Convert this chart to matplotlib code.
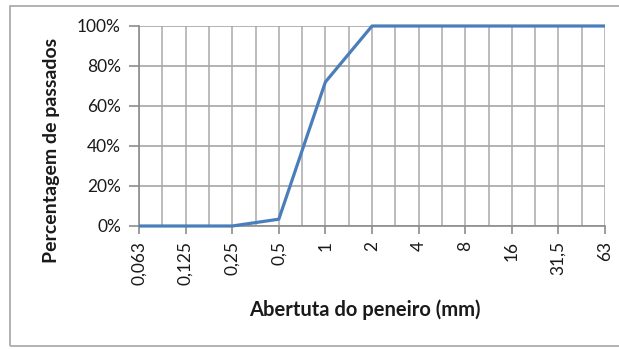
import matplotlib
matplotlib.use("Agg")
import matplotlib.pyplot as plt
from matplotlib.ticker import MultipleLocator, FuncFormatter
from matplotlib.patches import Rectangle

# Sieve openings (mm) and cumulative percentage passing
aberturas = ["0,063", "0,125", "0,25", "0,5", "1", "2", "4", "8", "16", "31,5", "63"]
passados = [0, 0, 0, 3.4, 72, 100, 100, 100, 100, 100, 100]
y_ticks = [0, 20, 40, 60, 80, 100]

plt.rcParams["font.family"] = ["Lato", "DejaVu Sans"]

W, H = 619, 349
fig = plt.figure(figsize=(W / 100, H / 100), dpi=100)
fig.patch.set_facecolor("white")

# Outer chart frame
frame = Rectangle((10 / W, 3 / H), 640 / W, 343 / H - 3 / H,
                  transform=fig.transFigure, fill=False,
                  edgecolor="#a6a6a6", linewidth=1.2, clip_on=False)
fig.patches.append(frame)

ax = fig.add_axes([139 / W, (H - 226) / H, (605 - 139) / W, 200 / H])

x = list(range(len(aberturas)))
ax.plot(x, passados, color="#4a7ebb", linewidth=2.3, solid_capstyle="butt",
        zorder=3, clip_on=False)

ax.set_xlim(0, len(aberturas) - 1)
ax.set_ylim(0, 100)

ax.set_xticks(x)
ax.set_xticklabels(aberturas, rotation=90, fontsize=12.5, color="#1a1a1a")
ax.xaxis.set_minor_locator(MultipleLocator(0.5))
ax.set_yticks(y_ticks)
ax.yaxis.set_major_formatter(FuncFormatter(lambda v, p: f"{v:.0f}%"))
for lab in ax.get_yticklabels():
    lab.set_fontsize(12.5)
    lab.set_color("#1a1a1a")

ax.grid(which="both", axis="x", color="#b0b0b0", linewidth=1.2)
ax.grid(which="major", axis="y", color="#a6a6a6", linewidth=1.2)
ax.set_axisbelow(True)

for side in ["top", "right"]:
    ax.spines[side].set_visible(False)
for side in ["left", "bottom"]:
    ax.spines[side].set_color("#8c8c8c")
    ax.spines[side].set_linewidth(1.2)

ax.tick_params(axis="y", which="major", direction="out", length=7,
               width=1.2, color="#8c8c8c", pad=6)
ax.tick_params(axis="x", which="major", direction="out", length=6,
               width=1.2, color="#8c8c8c", pad=5)
ax.tick_params(axis="x", which="minor", length=0)

# Axis titles
fig.text(364.5 / W, 1 - 310 / H, "Abertuta do peneiro (mm)", fontsize=14.5,
         fontweight="bold", color="#1a1a1a", ha="center", va="center")
fig.text(52 / W, 1 - 150 / H, "Percentagem de passados", fontsize=14,
         fontweight="bold", color="#1a1a1a", ha="center", va="center",
         rotation=90)

fig.savefig("out.png", dpi=100, facecolor="white")
